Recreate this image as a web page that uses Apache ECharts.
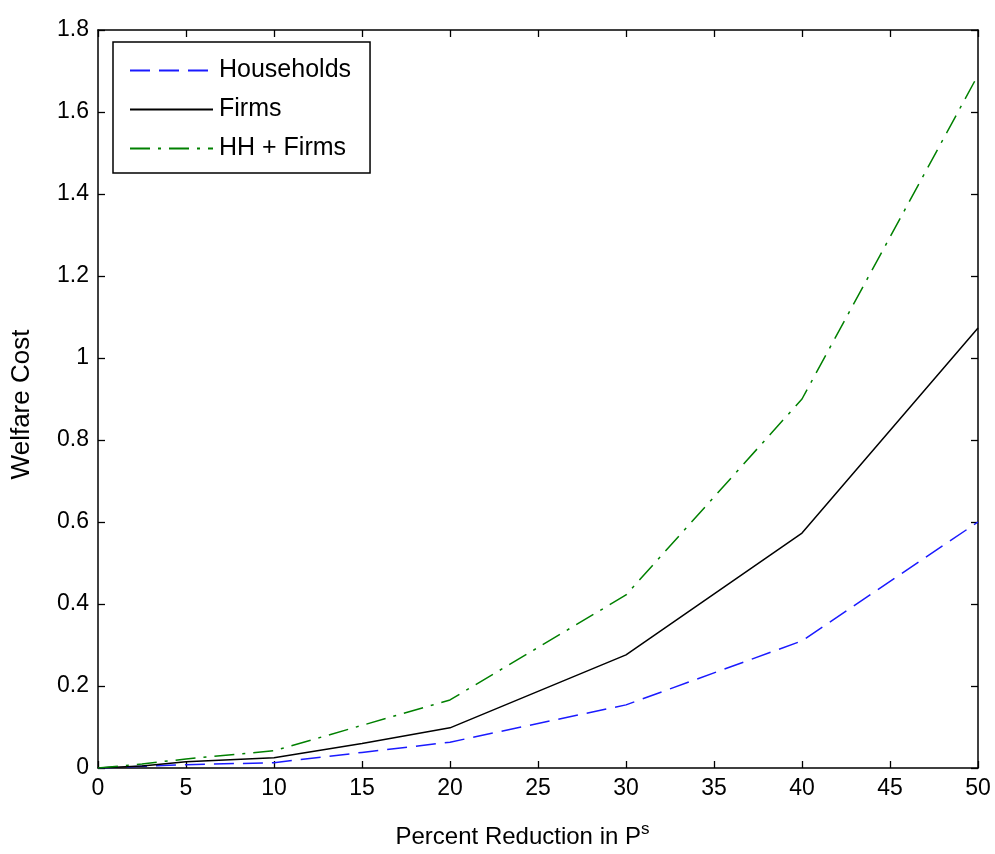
<!DOCTYPE html>
<html>
<head>
<meta charset="utf-8">
<script src="https://cdn.jsdelivr.net/npm/echarts@6/dist/echarts.min.js"></script>
<style>
html,body{margin:0;padding:0;background:#fff;}
#chart{width:995px;height:854px;}
</style>
</head>
<body>
<div id="chart"></div>
<script>
var xValues = [0, 2.5, 5, 10, 15, 20, 30, 40, 50];
var households = [0, 0.004, 0.008, 0.013, 0.038, 0.063, 0.154, 0.31, 0.60];
var firms = [0, 0.005, 0.015, 0.025, 0.06, 0.098, 0.276, 0.573, 1.073];
var hhFirms = [0, 0.01, 0.022, 0.042, 0.104, 0.166, 0.422, 0.90, 1.69];
var seriesNames = ['Households', 'Firms', 'HH + Firms'];

function pairs(ys) { return xValues.map(function (x, i) { return [x, ys[i]]; }); }

var font = '"Liberation Sans", Arial, Helvetica, sans-serif';
var chart = echarts.init(document.getElementById('chart'), null, {renderer: 'canvas'});
var axisLine = {show: true, onZero: false, lineStyle: {color: '#000', width: 1.5}};
var tick = {show: true, inside: true, length: 7, lineStyle: {color: '#000', width: 1.3}};

chart.setOption({
  backgroundColor: '#fff',
  animation: false,
  grid: {left: 98, right: 17, top: 30, bottom: 86, containLabel: false},
  legend: {
    show: true,
    orient: 'vertical',
    left: 113, top: 42,
    padding: [16, 19, 12, 16],
    itemWidth: 83, itemHeight: 25, itemGap: 14,
    backgroundColor: '#fff',
    borderColor: '#000', borderWidth: 1.5, borderRadius: 0,
    itemStyle: {opacity: 0},
    textStyle: {fontFamily: font, fontSize: 25, color: '#000', padding: [0, 0, 0, 1]},
    data: seriesNames
  },
  xAxis: [{
    type: 'value', min: 0, max: 50, interval: 5,
    name: '{a|Percent Reduction in P}{s|s}',
    nameLocation: 'middle', nameGap: 53,
    nameTextStyle: {
      padding: [0, 31, 0, 0],
      rich: {
        a: {fontFamily: font, fontSize: 24, color: '#000', verticalAlign: 'bottom'},
        s: {fontFamily: font, fontSize: 17, color: '#000', verticalAlign: 'bottom', padding: [0, 0, 11, 0]}
      }
    },
    axisLine: axisLine, axisTick: tick,
    axisLabel: {fontFamily: font, fontSize: 23, color: '#000', margin: 9},
    splitLine: {show: false}
  }, {
    type: 'value', min: 0, max: 50, interval: 5, position: 'top',
    axisLine: axisLine, axisTick: tick, axisLabel: {show: false}, splitLine: {show: false}
  }],
  yAxis: [{
    type: 'value', min: 0, max: 1.8, interval: 0.2,
    name: 'Welfare Cost', nameLocation: 'middle', nameGap: 63, nameRotate: 90,
    nameTextStyle: {fontFamily: font, fontSize: 26, color: '#000', padding: [0, 11, 0, 0]},
    axisLine: axisLine, axisTick: tick,
    axisLabel: {fontFamily: font, fontSize: 23, color: '#000', margin: 9,
      formatter: function (v) { return String(Math.round(v * 10) / 10); }},
    splitLine: {show: false}
  }, {
    type: 'value', min: 0, max: 1.8, interval: 0.2, position: 'right',
    axisLine: axisLine, axisTick: tick, axisLabel: {show: false}, splitLine: {show: false}
  }],
  series: [{
    name: seriesNames[0], type: 'line', data: pairs(households), symbol: 'none',
    lineStyle: {color: '#1a1aff', width: 1.5, type: [20, 9]}, itemStyle: {color: '#1a1aff'}
  }, {
    name: seriesNames[1], type: 'line', data: pairs(firms), symbol: 'none',
    lineStyle: {color: '#000', width: 1.5, type: 'solid'}, itemStyle: {color: '#000'}
  }, {
    name: seriesNames[2], type: 'line', data: pairs(hhFirms), symbol: 'none',
    lineStyle: {color: '#008000', width: 1.5, type: [20, 8, 3, 8]}, itemStyle: {color: '#008000'}
  }]
});
</script>
</body>
</html>
